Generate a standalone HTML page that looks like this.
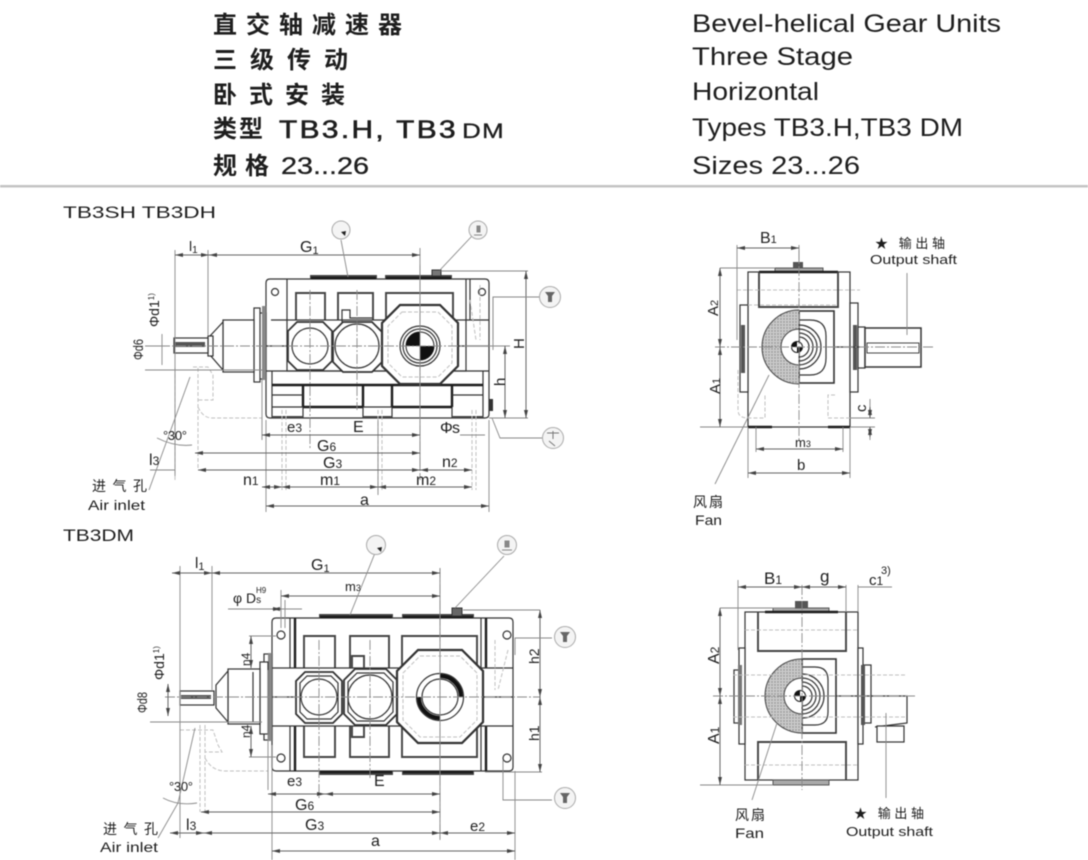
<!DOCTYPE html>
<html><head><meta charset="utf-8"><style>
html,body{margin:0;padding:0;background:#fff;width:1088px;height:860px;overflow:hidden}
svg{display:block;filter:blur(.55px)}
text{font-family:"Liberation Sans","Noto Sans CJK SC",sans-serif;fill:#1e1e1e}
.o{stroke:#333;stroke-width:1.2;fill:none}
.w{stroke:#333;stroke-width:1.2;fill:#fff}
.t{stroke:#1c1c1c;stroke-width:2.4;fill:none}
.m{stroke:#444;stroke-width:1.9;fill:none}
.d{stroke:#888;stroke-width:.9;fill:none}
.da{stroke:#666;stroke-width:1;fill:none;marker-start:url(#as);marker-end:url(#ae)}
.h{stroke:#c0c0c0;stroke-width:1;stroke-dasharray:4 2;fill:none}
.c{stroke:#8a8a8a;stroke-width:.9;stroke-dasharray:10 2 2 2;fill:none}
.co{stroke:#aaa;stroke-width:1;fill:#f4f4f4}
</style></head><body>
<svg width="1088" height="860" viewBox="0 0 1088 860" xmlns="http://www.w3.org/2000/svg">
<defs>
<marker id="ae" markerWidth="9" markerHeight="6" refX="8" refY="3" orient="auto" markerUnits="userSpaceOnUse"><path d="M0,1 L8,3 L0,5z" fill="#444"/></marker>
<marker id="as" markerWidth="9" markerHeight="6" refX="0" refY="3" orient="auto" markerUnits="userSpaceOnUse"><path d="M8,1 L0,3 L8,5z" fill="#444"/></marker>
<pattern id="hx" width="3" height="3" patternUnits="userSpaceOnUse"><rect width="3" height="3" fill="#c9c9c9"/><circle cx="1" cy="1" r=".7" fill="#888"/></pattern>
</defs>

<!-- Header -->
<g font-size="24" font-weight="bold">
<text x="213" y="33" textLength="189" lengthAdjust="spacing">直交轴减速器</text>
<text x="213" y="68" textLength="135" lengthAdjust="spacing">三级传动</text>
<text x="213" y="103" textLength="132" lengthAdjust="spacing">卧式安装</text>
<text x="213" y="137" textLength="50" lengthAdjust="spacing">类型</text>
<text x="213" y="174" textLength="56" lengthAdjust="spacing">规格</text>
</g>
<text x="279" y="138" font-size="25" letter-spacing="2" stroke="#1e1e1e" stroke-width=".6" textLength="179" lengthAdjust="spacingAndGlyphs">TB3.H, TB3</text>
<text x="462" y="138" font-size="21" letter-spacing="1" stroke="#1e1e1e" stroke-width=".3" textLength="43" lengthAdjust="spacingAndGlyphs">DM</text>
<text x="281" y="174" font-size="24" stroke="#1e1e1e" stroke-width=".3" textLength="88" lengthAdjust="spacingAndGlyphs">23...26</text>
<g font-size="25">
<text x="692" y="32" textLength="309" lengthAdjust="spacingAndGlyphs">Bevel-helical Gear Units</text>
<text x="692" y="65" textLength="161" lengthAdjust="spacingAndGlyphs">Three Stage</text>
<text x="692" y="100" textLength="127" lengthAdjust="spacingAndGlyphs">Horizontal</text>
<text x="692" y="136" textLength="271" lengthAdjust="spacingAndGlyphs">Types TB3.H,TB3 DM</text>
<text x="692" y="174" textLength="168" lengthAdjust="spacingAndGlyphs">Sizes 23...26</text>
</g>
<rect x="0" y="185" width="1088" height="2.5" fill="#c4c4c4"/>

<!-- ============ TB3SH TB3DH front view ============ -->
<text x="63" y="218" font-size="17" textLength="153" lengthAdjust="spacingAndGlyphs">TB3SH  TB3DH</text>
<g>
<path class="o" d="M270,279H485Q489,279 489,283V414Q489,418 485,418H270Q266,418 266,414V283Q266,279 270,279z"/>
<path class="m" d="M311,279V276H376V279M386,279V276H451V279"/>
<path class="t" d="M311,278H376M386,278H451"/>
<rect x="432" y="270" width="9" height="6" fill="#777" stroke="#333"/>
<path class="o" d="M287,279V320M470,279V320M466,279V320M271,320H287M466,320H489"/>
<circle class="o" cx="275" cy="292" r="3.5"/><circle class="o" cx="482" cy="292" r="3.5"/>
<!-- windows -->
<path class="m" d="M296,320V293H325V320M338,320V293H373V320M386,320V293H453V318"/>
<path class="o" d="M342,322V310H350V318H372"/>
<!-- band and base -->
<path class="o" d="M287,346H266M458,346H489"/>
<rect x="287" y="320" width="179" height="51" fill="none" stroke="#333" stroke-width="1.2"/>
<path class="o" d="M266,371H489M272,371V418M483,371V418"/>
<path class="t" d="M272,385H483M303,385V407M363,385V407M392,385V407M452,385V407M303,407H363M392,407H452"/>
<path class="o" d="M272,395H303M452,395H483M272,407H303M392,418V407M363,418V407M303,418V407M452,418V407M363,407H392"/>
<path class="m" d="M272,417H303M363,417H392M452,417H483"/>
<!-- shaft & hub -->
<rect class="w" x="258" y="313" width="8" height="66"/>
<rect class="w" x="254" y="308" width="6" height="74"/>
<rect x="262" y="306" width="4" height="74" fill="#888"/>
<rect class="w" x="223" y="320" width="31" height="52"/>
<path class="w" d="M223,322L210,336V355L223,370z"/>
<rect class="w" x="208" y="336" width="5" height="20"/>
<rect class="w" x="174" y="338" width="34" height="15"/>
<rect x="175" y="342" width="30" height="5" fill="#555"/>
<!-- octagons -->
<polygon class="w" points="297,322 323,322 332,331 332,361 323,370 297,370 288,361 288,331" style="stroke-width:1.7"/>
<circle class="o" cx="310" cy="346" r="18"/>
<polygon class="w" points="343,322 372,322 382,332 382,362 372,372 343,372 333,362 333,332" style="stroke-width:1.7"/>
<circle class="o" cx="357" cy="346" r="22"/>
<polygon class="w" points="400,305 440,305 458,323 458,366 440,384 400,384 382,366 382,323" style="stroke-width:2.2"/>
<polygon class="h" points="402,312 438,312 452,326 452,363 438,377 402,377 388,363 388,326"/>
<circle class="o" cx="420" cy="346" r="20"/>
<circle class="o" cx="420" cy="346" r="17"/>
<circle cx="420" cy="346" r="14" fill="#fff" stroke="#222"/>
<path d="M420,346V332A14,14 0 0 0 406,346zM420,346V360A14,14 0 0 0 434,346z" fill="#111"/>
</g>
<!-- center / hidden -->
<path class="c" d="M160,346H505M310,290V450M357,290V410M420,265V480"/>
<path class="h" d="M193,367H208L213,375V400H198M198,407Q203,418 212,418H262M175,368V480M198,368V470M480,285V340M470,300L476,340"/>
<path class="h" d="M282,410V490M286,410V490M378,410V490M382,410V490M472,410V490M476,410V490"/>
<!-- Dimensions -->
<path class="d" d="M175,250V476M208,250V335M420,248V470M262,380V440M266,420V512M489,420V512M378,420V495"/>
<path class="da" d="M175,255H209"/><path class="da" d="M209,255H420"/>
<path class="da" d="M262,435H420"/><path class="da" d="M195,453H420"/>
<path class="da" d="M198,470H420"/><path class="da" d="M420,470H472"/>
<path class="d" d="M150,470H175"/>
<path class="da" d="M262,487H282"/><path class="da" d="M282,487H378"/><path class="da" d="M378,487H472"/>
<path class="da" d="M266,506H489"/>
<path class="d" d="M145,370H262M145,346H165"/>
<path class="d" d="M162,334V365M460,435H485"/>
<path class="d" d="M441,271H528M489,418H528M466,346H510M493,297V340"/>
<path class="da" d="M526,271V418"/><path class="da" d="M505,346V418"/>
<path class="d" d="M149,490L190,377"/>
<path class="d" d="M157,438Q175,447 192,445"/>
<!-- Callouts -->
<path class="d" d="M341,240L348,277M440,270L472,236M493,350V297H540M492,418L500,438H542"/>
<circle class="co" cx="341" cy="230" r="9"/><path d="M341,232l5,-1l-1,5z" fill="#222"/>
<circle class="co" cx="478" cy="230" r="9"/><path d="M474,235h8M477,226h3v6h-3z" stroke="#888" fill="#888"/>
<circle class="co" cx="550" cy="297" r="10.5"/><path d="M545,292h10l-3,4v6h-4v-6z" fill="#666"/>
<circle class="co" cx="553" cy="438" r="10.5"/><path d="M547,433h12M553,431v8M549,441l6,5" stroke="#777" fill="none"/>
<rect x="489" y="399" width="4" height="12" fill="#333"/>
<!-- labels -->
<g font-size="16">
<text x="189" y="251" font-size="14">l<tspan font-size="10" dy="2">1</tspan></text>
<text x="300" y="252">G<tspan font-size="11" dy="2">1</tspan></text>
<text x="287" y="432" font-size="15">e<tspan font-size="12">3</tspan></text>
<text x="353" y="432">E</text>
<text x="440" y="433" textLength="20" lengthAdjust="spacing">Φ s</text>
<text x="317" y="451">G<tspan font-size="12">6</tspan></text>
<text x="323" y="468">G<tspan font-size="12">3</tspan></text>
<text x="442" y="467">n<tspan font-size="12">2</tspan></text>
<text x="243" y="485">n<tspan font-size="12">1</tspan></text>
<text x="320" y="485">m<tspan font-size="12">1</tspan></text>
<text x="416" y="485">m<tspan font-size="12">2</tspan></text>
<text x="360" y="505">a</text>
<text x="149" y="465">l<tspan font-size="12">3</tspan></text>
<text x="163" y="440" font-size="13" fill="#444" textLength="24" lengthAdjust="spacing">°30°</text>
<text transform="translate(524,349) rotate(-90)" font-size="15">H</text>
<text transform="translate(505,386) rotate(-90)" font-size="15">h</text>
<text transform="translate(159,327) rotate(-90)" font-size="14">Φd1<tspan font-size="8" dy="-5">1)</tspan></text>
<text transform="translate(143,360) rotate(-90)" font-size="14" textLength="21" lengthAdjust="spacingAndGlyphs">Φd6</text>
<text x="92" y="491" font-size="14" textLength="55" lengthAdjust="spacing">进气孔</text>
<text x="88" y="510" font-size="14" textLength="57" lengthAdjust="spacingAndGlyphs">Air inlet</text>
</g>

<!-- ============ TB3DM ============ -->
<text x="63" y="541" font-size="17" textLength="71" lengthAdjust="spacingAndGlyphs">TB3DM</text>
<g>
<path class="o" d="M276,618H509Q513,618 513,622V767Q513,771 509,771H276Q272,771 272,767V622Q272,618 276,618z"/>
<path class="m" d="M320,618V615H392V618M403,618V615H473V618M320,771V774H392V771M403,771V774H473V771"/>
<path class="t" d="M320,617H392M403,617H473M320,772H392M403,772H473"/>
<rect x="452" y="608" width="10" height="8" fill="#666" stroke="#333"/>
<path class="t" d="M295,618V668M295,726V771M486,618V668M486,726V771"/>
<path class="o" d="M290,618V668M290,726V771M481,618V668M481,726V771M272,668H295M272,726H295M486,668H513M486,726H513"/>
<circle class="o" cx="281" cy="635" r="4"/><circle class="o" cx="507" cy="635" r="4"/>
<circle class="o" cx="281" cy="758" r="4"/><circle class="o" cx="507" cy="758" r="4"/>
<path class="m" d="M304,668V636H335V668M350,668V636H389V668M402,668V636H477V666M304,726V757H335V726M350,726V757H389V726M402,726V757H477V728"/>
<path class="o" d="M295,668H486M295,726H486M295,697H272M483,697H513"/>
<path class="m" d="M352,668V656H364V668M352,726V737H364V726"/>
<rect class="w" x="264" y="654" width="8" height="86"/>
<rect x="268" y="653" width="4" height="88" fill="#888"/>
<rect class="w" x="260" y="662" width="8" height="72"/>
<rect class="w" x="228" y="669" width="32" height="55"/>
<path class="o" d="M253,672V722"/>
<path class="w" d="M228,671L216,685V708L228,722z"/>
<rect class="w" x="180" y="691" width="34" height="14"/>
<rect x="181" y="695" width="30" height="4" fill="#555"/>
<polygon class="w" points="305,672 333,672 342,681 342,714 333,723 305,723 296,714 296,681" style="stroke-width:1.8"/>
<polygon class="o" points="307,676 331,676 338,683 338,712 331,719 307,719 300,712 300,683"/>
<circle class="o" cx="319" cy="697" r="18"/>
<polygon class="w" points="355,669 386,669 397,680 397,714 386,725 355,725 344,714 344,680" style="stroke-width:1.8"/>
<polygon class="o" points="357,673 384,673 393,682 393,712 384,721 357,721 348,712 348,682"/>
<circle class="o" cx="370" cy="697" r="22"/>
<polygon class="w" points="418,650 462,650 483,671 483,722 462,743 418,743 397,722 397,671" style="stroke-width:2.2"/>
<polygon class="h" points="420,656 460,656 477,673 477,720 460,737 420,737 403,720 403,673"/>
<circle class="o" cx="440" cy="697" r="23.5"/>
<circle class="o" cx="440" cy="697" r="18"/>
<path d="M440,676A21,21 0 0 1 461,697M440,718A21,21 0 0 1 419,697" fill="none" stroke="#111" stroke-width="4"/>
</g>
<path class="c" d="M165,697H540M319,640V800M370,640V780M440,568V840"/>
<path class="h" d="M180,730H213L218,745L222,752H205M205,758Q212,771 225,771H268M200,725V812M205,725V812M495,640V690M508,650L498,690"/>
<!-- dims -->
<path class="d" d="M180,566V838M212,566V690M440,568V840M268,670V790M272,745V860M515,771V860M281,590V628M285,600V628"/>
<path class="da" d="M172,573H212"/><path class="da" d="M212,573H440"/>
<path class="da" d="M281,596H440"/>
<path class="d" d="M228,609H302"/><path class="da" d="M272,609H281"/>
<path class="d" d="M249,636H276M249,757H276"/>
<path class="da" d="M251,636V668"/><path class="da" d="M251,726V757"/>
<path class="da" d="M268,794H325"/><path class="da" d="M325,794H440"/>
<path class="da" d="M201,812H440"/>
<path class="da" d="M170,833H204"/><path class="da" d="M204,833H440"/><path class="da" d="M440,833H515"/>
<path class="da" d="M272,851H515"/>
<path class="d" d="M150,722H262"/>
<path class="da" d="M168,684V716"/>
<path class="d" d="M463,610H540M485,772H542"/>
<path class="da" d="M540,610V697"/><path class="da" d="M540,697V772"/>
<path class="d" d="M158,838L178,803L195,728M163,798Q178,806 197,803"/>
<!-- callouts -->
<path class="d" d="M375,553L350,615M455,608L504,556M515,655V638H552M503,760V800H552"/>
<circle class="co" cx="376" cy="545" r="9.5"/><path d="M377,548l5,-1l-1,5z" fill="#222"/>
<circle class="co" cx="507" cy="545" r="9.5"/><path d="M502,550h10M505,541h4v6h-4z" stroke="#888" fill="#888"/>
<circle class="co" cx="565" cy="637" r="10.5"/><path d="M560,632h10l-3,4v6h-4v-6z" fill="#666"/>
<circle class="co" cx="565" cy="798" r="10.5"/><path d="M560,793h10l-3,4v6h-4v-6z" fill="#666"/>
<!-- labels -->
<g font-size="16">
<text x="195" y="568" font-size="15">l<tspan font-size="11" dy="2">1</tspan></text>
<text x="311" y="570">G<tspan font-size="11" dy="2">1</tspan></text>
<text x="345" y="591" font-size="13">m<tspan font-size="9">3</tspan></text>
<text x="233" y="603" font-size="14">φ D<tspan font-size="10">s</tspan></text>
<text x="256" y="593" font-size="8">H9</text>
<text x="287" y="786" font-size="15">e<tspan font-size="12">3</tspan></text>
<text x="374" y="786">E</text>
<text x="295" y="810">G<tspan font-size="12">6</tspan></text>
<text x="305" y="830">G<tspan font-size="12">3</tspan></text>
<text x="470" y="831" font-size="15">e<tspan font-size="12">2</tspan></text>
<text x="371" y="846">a</text>
<text x="186" y="830">l<tspan font-size="12">3</tspan></text>
<text x="169" y="791" font-size="13" fill="#444" textLength="24" lengthAdjust="spacing">°30°</text>
<text transform="translate(539,664) rotate(-90)" font-size="14">h2</text>
<text transform="translate(539,741) rotate(-90)" font-size="14">h1</text>
<text transform="translate(250,666) rotate(-90)" font-size="12">n4</text>
<text transform="translate(250,738) rotate(-90)" font-size="12">n4</text>
<text transform="translate(164,680) rotate(-90)" font-size="14">Φd1<tspan font-size="8" dy="-5">1)</tspan></text>
<text transform="translate(147,713) rotate(-90)" font-size="14" textLength="21" lengthAdjust="spacingAndGlyphs">Φd8</text>
<text x="103" y="834" font-size="14" textLength="55" lengthAdjust="spacing">进气孔</text>
<text x="100" y="852" font-size="14" textLength="58" lengthAdjust="spacingAndGlyphs">Air inlet</text>
</g>

<!-- ============ Side view 1 ============ -->
<g>
<rect class="o" x="748" y="272" width="102" height="155"/>
<rect x="775" y="268" width="48" height="4" fill="#aaa" stroke="#555"/>
<path class="t" d="M759,272H838"/>
<rect x="793" y="262" width="10" height="6" fill="#555"/>
<path class="m" d="M759,272V307H838V272"/>
<path class="t" d="M748,427H772M828,427H850"/>
<rect class="w" x="740" y="305" width="8" height="87"/>
<rect x="741" y="325" width="4" height="48" fill="#555"/>
<rect class="w" x="850" y="303" width="8" height="89"/>
<rect x="853" y="325" width="4" height="45" fill="#555"/>
<rect class="w" x="858" y="327" width="7" height="41"/>
<rect class="w" x="865" y="328" width="56" height="39" style="stroke-width:1.5"/>
<rect x="867" y="343" width="52" height="10" fill="#fff" stroke="#444"/>
<rect class="o" x="799" y="311" width="35" height="72" style="stroke-width:1.6"/>
<path d="M799,310A37,37 0 0 0 799,384z" fill="url(#hx)" stroke="#444"/>
<path d="M799,329A18,18 0 0 0 799,365z" fill="#fff" stroke="#444"/>
<path class="o" d="M799,320H810Q826,320 826,336V358Q826,375 810,375H799"/>
<path class="o" d="M799,329A18,18 0 0 1 799,365M799,325A22,22 0 0 1 799,369M799,333A14,14 0 0 1 799,361M799,337A10,10 0 0 1 799,357"/>
<circle cx="797" cy="347" r="5.5" fill="#fff" stroke="#222"/>
<path d="M797,347V341.5A5.5,5.5 0 0 0 791.5,347zM797,347V352.5A5.5,5.5 0 0 0 802.5,347z" fill="#111"/>
<path class="o" d="M834,347H860"/>
<path class="h" d="M737,290H860M748,305H838M738,370V410Q738,418 748,418H765V395M835,395H828V418H850"/>
<path class="c" d="M715,347H935M799,250V440"/>
</g>
<path class="d" d="M737,245V340M799,245V262M720,268H775M700,427H748M756,427V452M843,427V452M748,427V478M850,427V478M850,418H875M850,427H875M907,273V335"/>
<path class="da" d="M737,248H799"/>
<path class="da" d="M720,268V347"/><path class="da" d="M720,347V427"/>
<path class="da" d="M756,449H843"/><path class="da" d="M748,473H850"/>
<path class="d" d="M870,399V410M870,432V440"/><path class="da" d="M870,407V418"/><path class="da" d="M870,427V437"/>
<path class="d" d="M769,375L715,484"/>
<g font-size="15">
<text x="760" y="243" font-size="16">B<tspan font-size="11">1</tspan></text>
<text transform="translate(718,316) rotate(-90)">A<tspan font-size="11">2</tspan></text>
<text transform="translate(720,394) rotate(-90)">A<tspan font-size="11">1</tspan></text>
<text x="795" y="447" font-size="13">m<tspan font-size="9">3</tspan></text>
<text x="797" y="470">b</text>
<text transform="translate(866,412) rotate(-90)">c</text>
<text x="875" y="248" font-size="13" textLength="70" lengthAdjust="spacing">★ 输出轴</text>
<text x="870" y="264" font-size="13" textLength="87" lengthAdjust="spacingAndGlyphs">Output shaft</text>
<text x="693" y="507" font-size="14" textLength="30" lengthAdjust="spacing">风扇</text>
<text x="695" y="525" font-size="14" textLength="27" lengthAdjust="spacingAndGlyphs">Fan</text>
</g>

<!-- ============ Side view 2 ============ -->
<g>
<rect class="o" x="745" y="612" width="113" height="168"/>
<rect x="773" y="608" width="56" height="4" fill="#aaa" stroke="#555"/>
<rect x="795" y="601" width="13" height="7" fill="#555"/>
<path class="t" d="M765,612H838"/>
<path class="m" d="M758,612V651H846V612M758,780V742H846V780"/>
<rect x="773" y="780" width="56" height="5" fill="#aaa" stroke="#555"/>
<rect class="w" x="739" y="648" width="6" height="96"/>
<rect class="w" x="734" y="670" width="5" height="53"/>
<rect x="738" y="665" width="4" height="60" fill="#777"/>
<rect class="w" x="858" y="648" width="5" height="96"/>
<rect class="w" x="863" y="665" width="8" height="58"/>
<rect x="861" y="665" width="4" height="60" fill="#555"/>
<rect class="o" x="802" y="659" width="34" height="74" style="stroke-width:1.6"/>
<path d="M802,659A37,37 0 0 0 802,733z" fill="url(#hx)" stroke="#444"/>
<path d="M802,678A18,18 0 0 0 802,714z" fill="#fff" stroke="#444"/>
<path class="o" d="M802,667H815Q828,667 828,680V712Q828,725 815,725H802"/>
<path class="o" d="M802,678A18,18 0 0 1 802,714M802,674A22,22 0 0 1 802,718M802,682A14,14 0 0 1 802,710M802,686A10,10 0 0 1 802,706"/>
<circle cx="800" cy="696" r="5.5" fill="#fff" stroke="#222"/>
<path d="M800,696V690.5A5.5,5.5 0 0 0 794.5,696zM800,696V701.5A5.5,5.5 0 0 0 805.5,696z" fill="#111"/>
<path class="o" d="M836,696H907V723L875,727"/>
<rect class="w" x="877" y="726" width="27" height="16"/>
<path class="h" d="M733,675H905M733,717H905M745,630H858M745,765H858"/>
<path class="c" d="M713,696H915M802,585V790"/>
</g>
<path class="d" d="M738,580V650M846,585V612M858,585V612M720,608H795M700,785H773M886,713V798"/>
<path class="da" d="M738,587H802"/><path class="da" d="M802,587H846"/><path class="d" d="M858,587H892"/>
<path class="da" d="M720,608V696"/><path class="da" d="M720,696V785"/>
<path class="d" d="M777,723L752,800"/>
<g font-size="16">
<text x="764" y="584" font-size="17">B<tspan font-size="12">1</tspan></text>
<text x="820" y="582" font-size="17">g</text>
<text x="869" y="585" font-size="15">c<tspan font-size="12">1</tspan></text>
<text x="881" y="574" font-size="11">3)</text>
<text transform="translate(719,664) rotate(-90)">A<tspan font-size="12">2</tspan></text>
<text transform="translate(719,744) rotate(-90)">A<tspan font-size="12">1</tspan></text>
<text x="735" y="820" font-size="14" textLength="30" lengthAdjust="spacing">风扇</text>
<text x="735" y="838" font-size="14" textLength="29" lengthAdjust="spacingAndGlyphs">Fan</text>
<text x="854" y="818" font-size="13" textLength="70" lengthAdjust="spacing">★ 输出轴</text>
<text x="846" y="836" font-size="13" textLength="87" lengthAdjust="spacingAndGlyphs">Output shaft</text>
</g>
</svg>
</body></html>
